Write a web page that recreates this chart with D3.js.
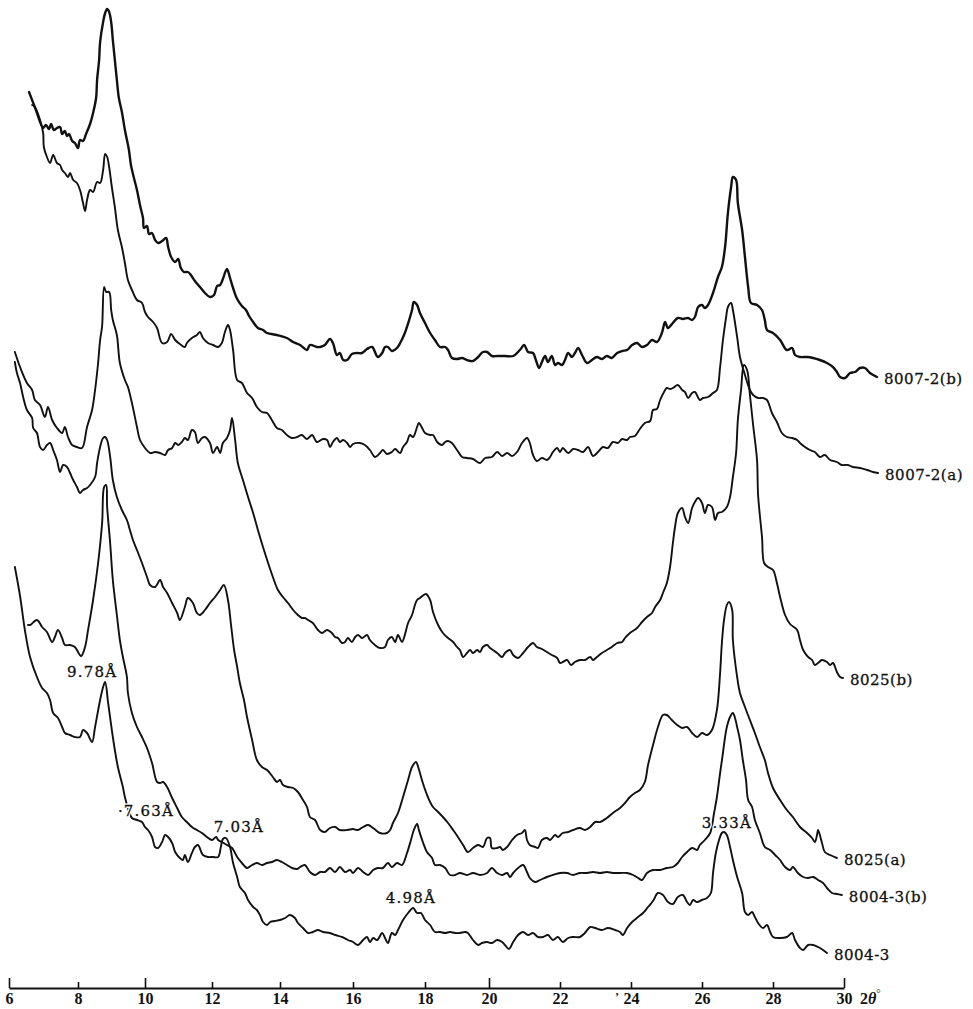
<!DOCTYPE html>
<html>
<head>
<meta charset="utf-8">
<script src="https://cdn.jsdelivr.net/npm/d3@7"></script>
<style>
  body { margin: 0; background: #fff; }
  svg { display: block; }
</style>
</head>
<body>
<script>
// X-ray diffraction patterns, 2θ (degrees) vs. relative intensity (stacked, arbitrary units)

const tickValues = [6, 8, 10, 12, 14, 16, 18, 20, 22, 24, 26, 28, 30];

const s8007_2b = [
  [6.58, 896], [6.78, 878], [6.99, 860], [7.07, 863], [7.16, 859], [7.22, 864], [7.30, 858], [7.39, 860],
  [7.48, 861], [7.54, 854], [7.62, 857], [7.68, 852], [7.74, 854], [7.83, 847], [7.91, 845], [8.00, 840],
  [8.06, 848], [8.15, 847], [8.24, 854], [8.36, 864], [8.45, 875], [8.54, 890], [8.57, 908], [8.63, 928],
  [8.66, 946], [8.75, 966], [8.81, 975], [8.87, 979], [8.93, 976], [8.99, 966], [9.04, 948], [9.10, 928],
  [9.16, 908], [9.22, 890], [9.31, 876], [9.40, 858], [9.52, 838], [9.58, 823], [9.67, 810], [9.76, 798],
  [9.85, 783], [9.94, 770], [9.97, 760], [10.06, 762], [10.12, 754], [10.21, 755], [10.30, 748], [10.39, 745],
  [10.51, 747], [10.63, 750], [10.69, 741], [10.78, 731], [10.90, 726], [10.99, 729], [11.07, 720], [11.16, 716],
  [11.28, 716], [11.37, 713], [11.49, 707], [11.64, 701], [11.79, 695], [11.94, 691], [12.06, 693], [12.15, 702],
  [12.24, 703], [12.32, 709], [12.44, 719], [12.53, 710], [12.62, 700], [12.74, 689], [12.88, 682], [13.00, 678],
  [13.09, 672], [13.21, 666], [13.35, 660], [13.50, 658], [13.62, 655], [13.91, 653], [14.19, 650], [14.36, 646],
  [14.55, 643], [14.74, 638], [14.82, 643], [15.01, 641], [15.10, 641], [15.23, 643], [15.37, 649], [15.45, 645],
  [15.56, 633], [15.64, 635], [15.73, 628], [15.84, 628], [15.97, 634], [16.11, 635], [16.25, 635], [16.39, 639],
  [16.53, 641], [16.69, 631], [16.81, 635], [16.89, 641], [16.97, 641], [17.08, 637], [17.22, 640], [17.31, 645],
  [17.44, 655], [17.56, 668], [17.64, 678], [17.69, 686], [17.78, 683], [17.86, 675], [18.00, 665], [18.16, 655],
  [18.31, 648], [18.47, 641], [18.63, 641], [18.72, 638], [18.84, 630], [19.00, 629], [19.16, 630], [19.31, 628],
  [19.50, 627], [19.66, 631], [19.81, 636], [19.94, 636], [20.08, 632], [20.25, 632], [20.45, 632], [20.68, 632],
  [20.87, 638], [20.99, 643], [21.10, 636], [21.24, 635], [21.32, 628], [21.41, 620], [21.49, 626], [21.58, 632],
  [21.66, 626], [21.77, 632], [21.86, 623], [21.94, 625], [22.06, 623], [22.14, 628], [22.23, 635], [22.34, 631],
  [22.42, 635], [22.51, 640], [22.62, 633], [22.76, 625], [22.90, 628], [23.04, 631], [23.18, 629], [23.32, 632],
  [23.46, 630], [23.61, 635], [23.75, 637], [23.89, 638], [24.03, 643], [24.17, 645], [24.31, 641], [24.45, 643],
  [24.59, 648], [24.73, 646], [24.87, 655], [24.96, 666], [25.04, 660], [25.18, 665], [25.32, 670], [25.46, 669],
  [25.61, 670], [25.72, 668], [25.80, 671], [25.89, 681], [26.00, 683], [26.08, 680], [26.17, 683], [26.31, 695],
  [26.45, 711], [26.56, 721], [26.65, 741], [26.73, 775], [26.82, 801], [26.87, 811], [26.96, 808], [27.01, 785],
  [27.13, 758], [27.21, 731], [27.30, 701], [27.38, 685], [27.55, 683], [27.69, 678], [27.77, 668], [27.83, 658],
  [28.00, 655], [28.20, 648], [28.39, 638], [28.54, 640], [28.62, 633], [28.76, 631], [28.96, 631], [29.13, 630],
  [29.32, 628], [29.52, 625], [29.69, 621], [29.80, 616], [29.89, 611], [30.03, 610], [30.17, 615], [30.31, 616],
  [30.45, 620], [30.59, 620], [30.73, 615], [30.93, 611]
];

const s8007_2a = [
  [6.67, 883], [6.75, 881], [6.90, 868], [6.99, 855], [7.01, 841], [7.10, 831], [7.19, 825], [7.28, 833],
  [7.39, 825], [7.48, 823], [7.54, 818], [7.62, 815], [7.71, 811], [7.77, 815], [7.86, 808], [7.97, 805],
  [8.06, 798], [8.15, 785], [8.21, 777], [8.27, 788], [8.36, 798], [8.45, 796], [8.57, 806], [8.66, 805],
  [8.75, 818], [8.81, 834], [8.87, 831], [8.93, 821], [9.01, 801], [9.10, 781], [9.19, 758], [9.31, 741],
  [9.40, 725], [9.49, 708], [9.61, 698], [9.76, 688], [9.91, 685], [10.00, 676], [10.09, 671], [10.24, 666],
  [10.36, 660], [10.51, 645], [10.66, 646], [10.78, 654], [10.90, 648], [11.04, 644], [11.19, 641], [11.25, 645],
  [11.40, 650], [11.55, 653], [11.64, 656], [11.73, 650], [11.88, 645], [12.03, 643], [12.18, 641], [12.29, 645],
  [12.38, 656], [12.47, 663], [12.53, 658], [12.62, 638], [12.74, 608], [12.88, 605], [13.03, 595], [13.18, 590],
  [13.32, 581], [13.47, 576], [13.62, 575], [13.76, 568], [13.91, 560], [14.05, 558], [14.19, 553], [14.33, 550],
  [14.47, 551], [14.60, 553], [14.74, 549], [14.88, 553], [15.01, 546], [15.18, 549], [15.29, 548], [15.37, 541],
  [15.45, 546], [15.56, 550], [15.64, 546], [15.73, 548], [15.84, 545], [15.92, 541], [16.00, 544], [16.19, 545],
  [16.33, 543], [16.47, 538], [16.61, 531], [16.75, 535], [16.83, 538], [16.94, 534], [17.08, 536], [17.17, 539],
  [17.31, 535], [17.39, 541], [17.50, 546], [17.58, 553], [17.67, 551], [17.78, 561], [17.83, 565], [17.92, 560],
  [18.00, 555], [18.16, 553], [18.25, 553], [18.38, 546], [18.53, 543], [18.63, 546], [18.72, 547], [18.84, 545],
  [19.00, 538], [19.16, 531], [19.31, 530], [19.50, 529], [19.72, 525], [19.88, 530], [20.08, 531], [20.23, 536],
  [20.37, 532], [20.51, 535], [20.65, 532], [20.79, 536], [20.93, 545], [21.07, 550], [21.15, 545], [21.24, 533],
  [21.35, 527], [21.49, 530], [21.63, 528], [21.72, 531], [21.80, 536], [21.92, 540], [22.00, 536], [22.08, 540],
  [22.23, 535], [22.37, 539], [22.51, 538], [22.65, 536], [22.79, 541], [22.93, 532], [23.07, 536], [23.21, 541],
  [23.35, 540], [23.49, 546], [23.63, 545], [23.75, 549], [23.89, 548], [23.97, 551], [24.11, 552], [24.25, 559],
  [24.39, 565], [24.54, 567], [24.62, 578], [24.73, 579], [24.82, 588], [24.90, 594], [25.01, 600], [25.10, 599],
  [25.18, 600], [25.32, 603], [25.44, 598], [25.52, 596], [25.61, 590], [25.72, 595], [25.80, 596], [25.94, 588],
  [26.03, 590], [26.17, 591], [26.31, 595], [26.42, 598], [26.51, 621], [26.59, 648], [26.68, 671], [26.73, 681],
  [26.82, 685], [26.87, 678], [26.99, 651], [27.07, 631], [27.21, 613], [27.35, 598], [27.44, 593], [27.58, 590],
  [27.72, 590], [27.83, 588], [27.97, 575], [28.11, 566], [28.25, 555], [28.39, 551], [28.54, 550], [28.68, 548],
  [28.76, 545], [28.90, 541], [29.04, 538], [29.18, 536], [29.32, 531], [29.46, 533], [29.61, 528], [29.80, 526],
  [29.94, 523], [30.11, 523], [30.25, 521], [30.45, 520], [30.65, 518], [30.82, 516], [30.96, 515]
];

const s8025b = [
  [6.17, 636], [6.32, 621], [6.52, 605], [6.67, 598], [6.75, 588], [6.90, 583], [7.04, 571], [7.13, 581],
  [7.25, 568], [7.39, 560], [7.54, 555], [7.62, 561], [7.71, 551], [7.83, 543], [7.97, 541], [8.12, 540],
  [8.27, 561], [8.42, 578], [8.51, 598], [8.60, 625], [8.66, 648], [8.72, 662], [8.78, 701], [8.84, 696],
  [8.93, 696], [8.99, 678], [9.04, 668], [9.16, 653], [9.25, 625], [9.40, 608], [9.49, 601], [9.61, 585],
  [9.76, 561], [9.85, 548], [10.00, 540], [10.15, 535], [10.30, 536], [10.45, 535], [10.60, 533], [10.69, 538],
  [10.81, 540], [10.90, 545], [10.99, 543], [11.10, 546], [11.19, 550], [11.28, 548], [11.40, 558], [11.49, 556],
  [11.58, 545], [11.70, 550], [11.79, 551], [11.94, 545], [12.03, 535], [12.15, 541], [12.24, 535], [12.32, 545],
  [12.44, 550], [12.53, 558], [12.59, 570], [12.68, 548], [12.76, 525], [12.91, 508], [13.06, 491], [13.21, 475],
  [13.35, 458], [13.50, 441], [13.65, 425], [13.79, 411], [13.94, 398], [14.08, 391], [14.22, 385], [14.36, 378],
  [14.49, 373], [14.60, 370], [14.68, 370], [14.77, 368], [14.90, 365], [15.04, 358], [15.15, 355], [15.29, 358],
  [15.42, 355], [15.51, 351], [15.59, 350], [15.70, 345], [15.78, 346], [15.86, 350], [15.97, 346], [16.06, 351],
  [16.14, 353], [16.25, 350], [16.39, 353], [16.47, 348], [16.61, 343], [16.75, 340], [16.89, 341], [16.97, 348],
  [17.08, 351], [17.17, 346], [17.25, 353], [17.36, 346], [17.44, 353], [17.53, 365], [17.64, 373], [17.72, 383],
  [17.78, 388], [17.86, 390], [18.03, 394], [18.16, 388], [18.25, 376], [18.41, 363], [18.56, 355], [18.72, 350],
  [18.88, 346], [19.00, 341], [19.09, 338], [19.19, 331], [19.31, 335], [19.41, 338], [19.50, 335], [19.63, 338],
  [19.72, 336], [19.81, 341], [19.94, 343], [20.03, 340], [20.11, 338], [20.23, 335], [20.37, 331], [20.45, 335],
  [20.59, 338], [20.68, 333], [20.82, 330], [20.96, 335], [21.10, 341], [21.24, 345], [21.35, 341], [21.49, 339],
  [21.63, 336], [21.77, 333], [21.92, 330], [22.00, 325], [22.08, 326], [22.20, 328], [22.31, 323], [22.42, 326],
  [22.56, 328], [22.70, 328], [22.85, 331], [22.93, 328], [23.04, 331], [23.18, 335], [23.32, 338], [23.46, 341],
  [23.61, 345], [23.75, 346], [23.83, 350], [23.97, 355], [24.17, 360], [24.31, 366], [24.45, 371], [24.59, 375],
  [24.68, 381], [24.82, 388], [24.90, 395], [25.01, 405], [25.10, 421], [25.18, 445], [25.24, 461], [25.32, 475],
  [25.44, 480], [25.52, 471], [25.61, 465], [25.72, 480], [25.80, 486], [25.89, 490], [26.00, 485], [26.08, 475],
  [26.17, 483], [26.28, 481], [26.37, 468], [26.45, 475], [26.56, 476], [26.70, 481], [26.79, 491], [26.87, 511],
  [26.96, 535], [27.01, 568], [27.10, 598], [27.18, 623], [27.27, 618], [27.35, 593], [27.44, 563], [27.55, 528],
  [27.58, 493], [27.69, 451], [27.75, 425], [27.86, 421], [28.00, 418], [28.11, 405], [28.20, 391], [28.34, 373],
  [28.48, 364], [28.68, 358], [28.76, 348], [28.85, 338], [28.99, 331], [29.10, 328], [29.18, 323], [29.27, 325],
  [29.38, 328], [29.52, 326], [29.61, 323], [29.69, 325], [29.80, 316], [29.89, 311], [29.97, 310]
];

const s8025a = [
  [6.17, 626], [6.23, 615], [6.32, 605], [6.41, 591], [6.52, 578], [6.67, 570], [6.70, 560], [6.81, 555],
  [6.90, 541], [6.99, 538], [7.10, 543], [7.19, 545], [7.28, 538], [7.39, 528], [7.48, 516], [7.57, 523],
  [7.68, 521], [7.77, 515], [7.86, 508], [7.97, 501], [8.06, 495], [8.15, 498], [8.27, 500], [8.36, 503],
  [8.51, 511], [8.57, 525], [8.66, 541], [8.75, 550], [8.81, 551], [8.87, 548], [8.96, 531], [9.04, 508],
  [9.16, 491], [9.31, 478], [9.46, 468], [9.55, 458], [9.64, 448], [9.76, 438], [9.91, 425], [10.06, 411],
  [10.15, 403], [10.30, 401], [10.45, 408], [10.54, 401], [10.66, 395], [10.81, 385], [10.96, 375], [11.04, 368],
  [11.19, 381], [11.28, 390], [11.43, 385], [11.55, 375], [11.64, 373], [11.79, 378], [11.94, 385], [12.09, 391],
  [12.24, 398], [12.35, 403], [12.47, 388], [12.56, 363], [12.65, 338], [12.74, 321], [12.82, 305], [12.94, 288],
  [13.03, 271], [13.18, 248], [13.32, 228], [13.47, 221], [13.62, 218], [13.79, 211], [13.91, 206], [14.00, 208],
  [14.08, 203], [14.22, 201], [14.36, 200], [14.49, 196], [14.63, 188], [14.74, 181], [14.82, 171], [14.96, 168],
  [15.10, 158], [15.23, 156], [15.37, 160], [15.51, 161], [15.64, 158], [15.84, 158], [16.00, 159], [16.14, 158],
  [16.28, 161], [16.42, 163], [16.56, 160], [16.75, 155], [16.94, 155], [17.03, 158], [17.11, 165], [17.25, 175],
  [17.39, 191], [17.53, 208], [17.64, 221], [17.75, 226], [17.81, 221], [17.94, 205], [18.09, 191], [18.25, 181],
  [18.41, 176], [18.56, 171], [18.72, 165], [18.88, 158], [19.03, 151], [19.19, 143], [19.34, 136], [19.50, 140],
  [19.66, 143], [19.81, 141], [19.94, 150], [20.03, 150], [20.08, 140], [20.23, 140], [20.31, 141], [20.39, 138],
  [20.51, 141], [20.65, 148], [20.79, 153], [20.93, 155], [21.01, 158], [21.07, 148], [21.15, 143], [21.30, 141],
  [21.38, 140], [21.49, 148], [21.63, 150], [21.72, 148], [21.86, 153], [21.94, 151], [22.08, 155], [22.23, 156],
  [22.37, 158], [22.56, 160], [22.70, 158], [22.85, 161], [22.99, 166], [23.13, 166], [23.32, 170], [23.49, 175],
  [23.69, 180], [23.83, 185], [23.97, 191], [24.11, 195], [24.25, 198], [24.39, 206], [24.48, 223], [24.62, 243],
  [24.76, 261], [24.90, 273], [25.01, 273], [25.15, 268], [25.30, 263], [25.44, 260], [25.58, 261], [25.72, 255],
  [25.86, 251], [26.00, 255], [26.14, 253], [26.28, 258], [26.42, 278], [26.51, 315], [26.56, 345], [26.62, 368],
  [26.70, 383], [26.76, 386], [26.85, 378], [26.87, 348], [26.99, 311], [27.07, 295], [27.21, 281], [27.35, 268],
  [27.49, 255], [27.63, 241], [27.77, 228], [27.86, 215], [28.00, 200], [28.20, 188], [28.39, 178], [28.56, 171],
  [28.76, 161], [28.96, 155], [29.10, 150], [29.18, 146], [29.24, 153], [29.27, 158], [29.38, 145], [29.46, 136],
  [29.61, 133], [29.80, 130]
];

const s8004_3b = [
  [6.55, 363], [6.61, 363], [6.81, 368], [6.96, 361], [7.10, 356], [7.25, 346], [7.33, 351], [7.42, 358],
  [7.54, 350], [7.62, 343], [7.77, 343], [7.91, 341], [8.09, 332], [8.21, 341], [8.30, 358], [8.45, 388],
  [8.60, 425], [8.72, 465], [8.78, 501], [8.84, 503], [8.87, 481], [8.96, 445], [9.04, 408], [9.16, 373],
  [9.25, 348], [9.34, 331], [9.46, 311], [9.49, 295], [9.61, 275], [9.76, 261], [9.91, 251], [10.06, 240],
  [10.21, 225], [10.36, 206], [10.45, 205], [10.54, 206], [10.66, 201], [10.81, 190], [10.96, 180], [11.10, 171],
  [11.25, 166], [11.40, 161], [11.55, 158], [11.70, 155], [11.85, 151], [12.00, 148], [12.12, 151], [12.18, 148],
  [12.29, 146], [12.44, 143], [12.59, 140], [12.74, 131], [12.88, 125], [13.03, 120], [13.18, 123], [13.32, 125],
  [13.47, 123], [13.62, 125], [13.76, 126], [13.91, 128], [14.05, 126], [14.19, 123], [14.33, 120], [14.47, 119],
  [14.55, 121], [14.68, 123], [14.82, 116], [14.96, 113], [15.10, 116], [15.23, 116], [15.37, 120], [15.51, 116],
  [15.64, 121], [15.78, 116], [15.92, 118], [16.00, 115], [16.14, 120], [16.28, 116], [16.42, 113], [16.56, 118],
  [16.69, 120], [16.83, 120], [16.97, 125], [17.08, 121], [17.22, 125], [17.36, 123], [17.50, 135], [17.61, 148],
  [17.69, 158], [17.78, 164], [17.83, 158], [17.94, 146], [18.06, 136], [18.22, 130], [18.31, 123], [18.47, 123],
  [18.63, 120], [18.78, 113], [18.94, 113], [19.09, 115], [19.31, 113], [19.50, 115], [19.72, 113], [19.94, 115],
  [20.08, 120], [20.23, 115], [20.37, 113], [20.51, 115], [20.59, 111], [20.68, 115], [20.82, 120], [20.96, 123],
  [21.07, 116], [21.15, 110], [21.30, 106], [21.44, 108], [21.63, 111], [21.80, 113], [22.00, 115], [22.20, 115],
  [22.37, 113], [22.56, 115], [22.76, 115], [22.93, 116], [23.13, 115], [23.32, 116], [23.49, 115], [23.69, 115],
  [23.89, 115], [24.06, 113], [24.20, 110], [24.31, 108], [24.45, 115], [24.62, 118], [24.82, 118], [25.01, 120],
  [25.18, 121], [25.32, 125], [25.44, 131], [25.58, 136], [25.72, 140], [25.86, 138], [25.94, 143], [26.08, 148],
  [26.23, 155], [26.34, 175], [26.42, 191], [26.51, 215], [26.59, 235], [26.65, 251], [26.70, 261], [26.79, 271],
  [26.87, 275], [26.93, 270], [26.99, 261], [27.07, 248], [27.15, 228], [27.24, 208], [27.30, 188], [27.41, 181],
  [27.49, 168], [27.63, 155], [27.77, 141], [27.92, 138], [28.06, 133], [28.20, 128], [28.34, 121], [28.48, 118],
  [28.56, 121], [28.70, 115], [28.85, 111], [28.99, 110], [29.13, 111], [29.27, 108], [29.41, 105], [29.52, 100],
  [29.66, 95], [29.80, 94], [29.94, 93]
];

const s8004_3 = [
  [6.17, 421], [6.32, 392], [6.46, 358], [6.61, 331], [6.81, 311], [6.96, 300], [7.10, 295], [7.19, 288],
  [7.28, 275], [7.42, 270], [7.54, 261], [7.62, 255], [7.77, 253], [7.91, 251], [8.06, 251], [8.15, 258],
  [8.27, 255], [8.42, 246], [8.51, 261], [8.66, 288], [8.75, 301], [8.81, 306], [8.90, 285], [9.01, 258],
  [9.10, 238], [9.19, 221], [9.34, 201], [9.40, 191], [9.61, 170], [9.76, 168], [9.91, 166], [10.00, 161],
  [10.09, 158], [10.21, 151], [10.30, 141], [10.39, 140], [10.51, 146], [10.60, 153], [10.69, 151], [10.81, 145],
  [10.90, 136], [11.04, 130], [11.13, 128], [11.19, 133], [11.28, 126], [11.40, 135], [11.49, 141], [11.58, 143],
  [11.73, 133], [11.88, 131], [12.03, 131], [12.18, 131], [12.26, 141], [12.32, 149], [12.41, 150], [12.53, 141],
  [12.62, 125], [12.74, 111], [12.82, 101], [12.97, 95], [13.06, 88], [13.21, 81], [13.32, 78], [13.41, 73],
  [13.50, 66], [13.62, 63], [13.71, 66], [13.85, 67], [14.00, 68], [14.14, 70], [14.27, 73], [14.41, 70],
  [14.49, 65], [14.63, 60], [14.77, 55], [14.90, 56], [15.04, 58], [15.18, 56], [15.37, 55], [15.51, 53],
  [15.70, 51], [15.86, 48], [16.00, 46], [16.14, 43], [16.28, 48], [16.39, 51], [16.47, 46], [16.56, 50],
  [16.67, 48], [16.81, 55], [16.89, 50], [16.97, 45], [17.08, 55], [17.17, 53], [17.25, 58], [17.39, 68],
  [17.53, 75], [17.67, 80], [17.78, 75], [17.89, 75], [18.00, 68], [18.16, 63], [18.31, 56], [18.47, 56],
  [18.63, 55], [18.78, 56], [18.94, 55], [19.09, 55], [19.25, 56], [19.34, 55], [19.50, 48], [19.66, 43],
  [19.78, 45], [19.94, 46], [20.08, 45], [20.23, 48], [20.37, 46], [20.45, 43], [20.56, 39], [20.68, 46],
  [20.82, 53], [20.96, 56], [21.10, 53], [21.24, 55], [21.38, 51], [21.52, 51], [21.66, 53], [21.80, 48],
  [21.94, 51], [22.08, 46], [22.23, 50], [22.37, 51], [22.56, 51], [22.70, 55], [22.85, 61], [22.99, 60],
  [23.18, 58], [23.35, 60], [23.55, 58], [23.69, 56], [23.77, 53], [23.89, 60], [24.03, 66], [24.20, 71],
  [24.34, 75], [24.48, 81], [24.62, 87], [24.76, 95], [24.90, 93], [25.04, 86], [25.18, 84], [25.32, 91],
  [25.46, 93], [25.58, 86], [25.66, 83], [25.75, 88], [25.86, 86], [26.00, 88], [26.14, 90], [26.25, 95],
  [26.31, 115], [26.39, 135], [26.48, 148], [26.56, 155], [26.62, 156], [26.70, 153], [26.79, 141], [26.87, 128],
  [26.99, 111], [27.13, 95], [27.21, 76], [27.30, 73], [27.41, 76], [27.49, 71], [27.58, 65], [27.72, 60],
  [27.83, 63], [27.92, 56], [28.00, 51], [28.20, 50], [28.39, 51], [28.54, 55], [28.62, 48], [28.76, 40],
  [28.85, 38], [28.99, 43], [29.13, 43], [29.27, 41], [29.41, 38], [29.52, 35]
];

const seriesNames = ['8007-2(b)', '8007-2(a)', '8025(b)', '8025(a)', '8004-3(b)', '8004-3'];
const seriesValues = [s8007_2b, s8007_2a, s8025b, s8025a, s8004_3b, s8004_3];

// d-spacing annotations: label, 2θ and level where the text sits
const peakLabels = ['9.78', '·7.63', '7.03', '4.98', '3.33'];
const peakTheta = [8.42, 10.03, 12.79, 17.61, 26.70];
const peakLevel = [311, 172, 156, 85, 160];

const width = 973;
const height = 1009;
const font = "'DejaVu Serif', 'Liberation Serif', serif";
const tickFont = "'Liberation Serif', 'DejaVu Serif', serif";

// the printed axis is not perfectly even, so follow its tick positions
const x = d3.scaleLinear()
  .domain(tickValues)
  .range([9, 78, 145, 212, 280, 353, 425, 489, 560, 631, 702, 773, 844]);

const y = d3.scaleLinear()
  .domain([0, 1000])
  .range([988, -12]);

const svg = d3.select('body')
  .append('svg')
  .attr('width', width)
  .attr('height', height)
  .style('background', '#fff');

const line = d3.line()
  .x(d => x(d[0]))
  .y(d => y(d[1]))
  .curve(d3.curveCatmullRom.alpha(0.5));

svg.selectAll('.trace')
  .data(seriesValues)
  .enter()
  .append('path')
  .attr('class', 'trace')
  .attr('d', line)
  .attr('fill', 'none')
  .attr('stroke', '#111')
  .attr('stroke-width', (d, i) => (i === 0 ? 2.4 : 1.9))
  .attr('stroke-linejoin', 'round')
  .attr('stroke-linecap', 'round');

// sample names at the right end of each trace
svg.selectAll('.name')
  .data(seriesValues)
  .enter()
  .append('text')
  .attr('class', 'name')
  .attr('x', d => x(d[d.length - 1][0]) + 7)
  .attr('y', d => y(d[d.length - 1][1]) + 7)
  .attr('font-family', font)
  .attr('font-size', 15)
  .attr('letter-spacing', 0.5)
  .attr('fill', '#111')
  .attr('stroke', '#111')
  .attr('stroke-width', 0.3)
  .text((d, i) => seriesNames[i]);

// peak d-spacings; a white halo breaks the trace under the text as in the print
const drawAnn = (cls, halo) => {
  const t = svg.selectAll(`.${cls}`)
    .data(peakLabels)
    .enter()
    .append('text')
    .attr('class', cls)
    .attr('x', (d, i) => x(peakTheta[i]))
    .attr('y', (d, i) => y(peakLevel[i]))
    .attr('text-anchor', 'middle')
    .attr('font-family', font)
    .attr('font-size', 15)
    .attr('letter-spacing', 1.2)
    .attr('fill', halo ? '#fff' : '#111')
    .attr('stroke', halo ? '#fff' : '#111')
    .attr('stroke-width', halo ? 3 : 0.3)
    .attr('stroke-linejoin', 'round');
  t.append('tspan').text(d => d);
  t.append('tspan').text('Å');
};
drawAnn('ann-halo', true);
drawAnn('ann', false);

// bottom axis, ticks pointing up into the plot
const axis = d3.axisBottom(x)
  .tickValues(tickValues)
  .tickSizeInner(-6)
  .tickSizeOuter(0)
  .tickPadding(5)
  .tickFormat(d => d);

const gAxis = svg.append('g')
  .attr('transform', `translate(0, ${y(0)})`)
  .call(axis);

gAxis.select('.domain')
  .attr('stroke', '#111')
  .attr('stroke-width', 2);

gAxis.selectAll('.tick line')
  .attr('stroke', '#111')
  .attr('stroke-width', 1.6)
  .attr('y2', d => ([6, 10, 20, 30].includes(d) ? -10 : -6));

gAxis.selectAll('.tick text')
  .attr('font-family', tickFont)
  .attr('font-weight', 'bold')
  .attr('font-size', 16)
  .attr('fill', '#111');

// stray apostrophe printed before 24
gAxis.append('text')
  .attr('x', x(24) - 12)
  .attr('y', 13)
  .attr('text-anchor', 'end')
  .attr('font-family', tickFont)
  .attr('font-weight', 'bold')
  .attr('font-size', 12)
  .attr('fill', '#111')
  .text('\u2019');

const unit = gAxis.append('text')
  .attr('x', x(30) + 16)
  .attr('y', 16)
  .attr('text-anchor', 'start')
  .attr('font-family', tickFont)
  .attr('font-weight', 'bold')
  .attr('font-size', 16)
  .attr('fill', '#111');
unit.append('tspan').text('2');
unit.append('tspan').attr('font-style', 'italic').text('θ');
unit.append('tspan').attr('dy', -7).attr('font-size', 11).attr('font-weight', 'normal').text('°');
</script>
</body>
</html>
